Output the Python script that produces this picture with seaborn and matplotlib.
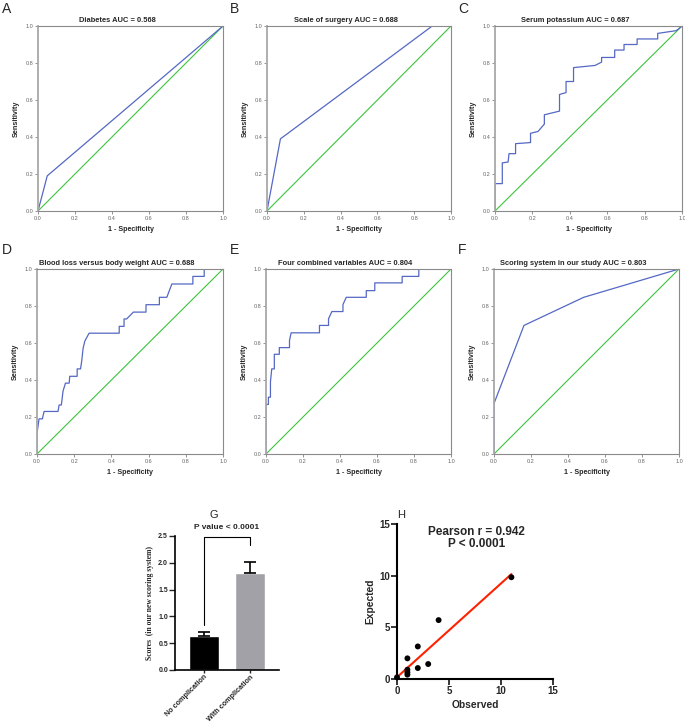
import numpy as np
import pandas as pd
import matplotlib
matplotlib.use("Agg")
import matplotlib.pyplot as plt
import seaborn as sns

# ROC curves: (1 - specificity, sensitivity)
diabetes_fpr = [0.0, 0.05, 1.0]
diabetes_tpr = [0.0, 0.19, 1.0]

surgery_fpr = [0.0, 0.073, 0.898, 1.0]
surgery_tpr = [0.0, 0.39, 1.0, 1.0]

potassium_fpr = [0.0, 0.0, 0.039, 0.039, 0.07, 0.075, 0.11, 0.11, 0.19, 0.19, 0.23,
                 0.264, 0.264, 0.345, 0.345, 0.38, 0.38, 0.42, 0.42, 0.536, 0.57,
                 0.57, 0.64, 0.64, 0.69, 0.69, 0.76, 0.76, 0.87, 0.87, 0.97, 1.0]
potassium_tpr = [0.0, 0.148, 0.148, 0.26, 0.265, 0.31, 0.31, 0.364, 0.37, 0.42, 0.43,
                 0.47, 0.52, 0.54, 0.63, 0.64, 0.70, 0.70, 0.775, 0.787, 0.805,
                 0.83, 0.83, 0.87, 0.87, 0.90, 0.90, 0.93, 0.93, 0.96, 0.975, 1.0]

bloodloss_fpr = [0.0, 0.0, 0.011, 0.029, 0.038, 0.113, 0.119, 0.131, 0.14, 0.153, 0.173,
                 0.176, 0.216, 0.216, 0.234, 0.24, 0.248, 0.257, 0.28, 0.442, 0.442,
                 0.468, 0.468, 0.482, 0.518, 0.586, 0.586, 0.658, 0.658, 0.698, 0.725,
                 0.838, 0.838, 0.899, 0.899, 1.0]
bloodloss_tpr = [0.0, 0.112, 0.19, 0.19, 0.23, 0.23, 0.265, 0.265, 0.34, 0.383, 0.383,
                 0.42, 0.42, 0.46, 0.46, 0.50, 0.572, 0.61, 0.653, 0.653, 0.69,
                 0.69, 0.73, 0.73, 0.767, 0.767, 0.807, 0.807, 0.847, 0.847, 0.919,
                 0.919, 0.96, 0.96, 1.0, 1.0]

combined_fpr = [0.0, 0.0, 0.013, 0.013, 0.024, 0.024, 0.031, 0.045, 0.045, 0.072, 0.072,
                0.127, 0.127, 0.136, 0.289, 0.289, 0.338, 0.338, 0.356, 0.416, 0.416,
                0.434, 0.542, 0.542, 0.588, 0.588, 0.736, 0.736, 0.826, 0.826, 1.0]
combined_tpr = [0.0, 0.268, 0.268, 0.307, 0.307, 0.39, 0.46, 0.46, 0.539, 0.539, 0.575,
                0.575, 0.614, 0.655, 0.655, 0.695, 0.695, 0.731, 0.77, 0.77, 0.808,
                0.847, 0.847, 0.883, 0.883, 0.925, 0.925, 0.96, 0.96, 1.0, 1.0]

scoring_fpr = [0.0, 0.0, 0.162, 0.485, 1.0]
scoring_tpr = [0.0, 0.273, 0.695, 0.847, 1.0]

reference_line = [0.0, 1.0]

roc_titles = ["Diabetes AUC = 0.568", "Scale of surgery AUC = 0.688",
              "Serum potassium AUC = 0.687", "Blood loss versus body weight AUC = 0.688",
              "Four combined variables AUC = 0.804", "Scoring system in our study AUC = 0.803"]

# panel G: scores by group
groups = ["No complication", "With complication"]
score_means = [0.63, 1.81]
score_errors = [0.08, 0.20]
bracket_top = 2.49

# panel H: observed vs expected
observed = [0, 1, 1, 1, 1, 2, 2, 3, 4, 11]
expected = [0.16, 2.0, 0.9, 0.64, 0.42, 3.15, 1.06, 1.45, 5.7, 9.85]

sns.set_style("white")
plt.rcParams['font.family'] = ['Liberation Sans', 'DejaVu Sans']

fig = plt.figure(figsize=(6.85, 7.26), dpi=100)
W, H = 685.0, 726.0


def px_axes(left, top, right, bottom):
    return fig.add_axes([left / W, 1 - bottom / H, (right - left) / W, (bottom - top) / H])


roc_boxes = [(38, 26, 223, 211), (267, 26, 451, 211), (495, 26, 682, 211),
             (37, 269, 223, 454), (266, 269, 451, 454), (494, 269, 679, 454)]
roc_data = [(diabetes_fpr, diabetes_tpr), (surgery_fpr, surgery_tpr),
            (potassium_fpr, potassium_tpr), (bloodloss_fpr, bloodloss_tpr),
            (combined_fpr, combined_tpr), (scoring_fpr, scoring_tpr)]
letters = ["A", "B", "C", "D", "E", "F"]
letter_pos = [(2, 2), (230, 2), (458, 2), (2, 243), (230, 243), (458, 243)]

for box, (fpr, tpr), title, letter, lp in zip(roc_boxes, roc_data, roc_titles, letters, letter_pos):
    ax = px_axes(*box)
    sns.lineplot(x=reference_line, y=reference_line, ax=ax, color="#3cc43c",
                 lw=0.8, sort=False, estimator=None)
    sns.lineplot(x=fpr, y=tpr, ax=ax, color="#5468c4", lw=0.9,
                 sort=False, estimator=None)
    ax.set_xlim(0, 1)
    ax.set_ylim(0, 1)
    ticks = np.arange(0, 1.01, 0.2)
    ax.set_xticks(ticks)
    ax.set_yticks(ticks)
    ax.set_xticklabels([f"{t:.1f}" for t in ticks])
    ax.set_yticklabels([f"{t:.1f}" for t in ticks])
    ax.tick_params(labelsize=4, colors="#666666", length=2, width=0.5, pad=1.5,
                   left=True, bottom=True)
    for s in ax.spines.values():
        s.set_color("#8a8a8a")
        s.set_linewidth(0.8)
    ax.spines["left"].set_color("#a8a8a8")
    ax.spines["left"].set_linewidth(1.3)
    ax.set_title(title, fontsize=5.4, fontweight="bold", pad=3, x=0.43)
    ax.set_xlabel("1 - Specificity", fontsize=5.1, fontweight="bold", labelpad=4)
    ax.set_ylabel("Sensitivity", fontsize=5.2, fontweight="bold", labelpad=4)
    fig.text(lp[0] / W, 1 - lp[1] / H, letter, fontsize=10, va="top", ha="left")

# panel G
axg = px_axes(175, 536, 279, 670)
bar_df = pd.DataFrame({"group": groups, "score": score_means})
sns.barplot(data=bar_df, x="group", y="score", hue="group",
            palette=["#000000", "#a0a0a8"], width=0.65, ax=axg, legend=False)
axg.errorbar([0, 1], score_means, yerr=[[0, 0], score_errors], fmt="none",
             ecolor="black", elinewidth=1.2, capsize=4, capthick=1.2)
left_start = score_means[0] + score_errors[0] + 0.13
right_start = score_means[1] + score_errors[1] + 0.32
axg.plot([0, 0, 1, 1], [left_start, bracket_top, bracket_top, right_start],
         color="black", lw=0.8, clip_on=False)
axg.text(0.5, bracket_top + 0.1, "P value < 0.0001", ha="center", va="bottom",
         fontsize=6, fontweight="bold")
axg.set_xlim(-0.63, 1.63)
axg.set_ylim(0, 2.5)
axg.set_yticks([0, 0.5, 1.0, 1.5, 2.0, 2.5])
axg.set_yticklabels(["0.0", "0.5", "1.0", "1.5", "2.0", "2.5"])
axg.set_xlabel("")
axg.set_ylabel("Scores  (in our new scoring system)", fontsize=5.5,
               fontweight="bold", family=["Liberation Serif"], labelpad=3)
axg.set_xticks([0, 1])
axg.set_xticklabels(groups, rotation=45, ha="right", rotation_mode="anchor",
                    fontsize=5.2, fontweight="bold")
for lab in axg.get_yticklabels():
    lab.set_fontweight("bold")
axg.tick_params(axis="y", labelsize=5, length=4, width=1, left=True, pad=1)
axg.tick_params(axis="x", length=2, width=1, bottom=True, pad=0.5)
sns.despine(ax=axg)
for s in ["left", "bottom"]:
    axg.spines[s].set_linewidth(1.2)
    axg.spines[s].set_color("black")
fig.text(210 / W, 1 - 510 / H, "G", fontsize=8, va="top", ha="left")

# panel H
axh = px_axes(397, 524, 553, 679)
sns.regplot(x=observed, y=expected, scatter=False, ci=None, truncate=True,
            line_kws={"color": "#ff2200", "lw": 1.5}, ax=axh)
sns.scatterplot(x=observed, y=expected, color="black", s=18, edgecolor="none",
                ax=axh, clip_on=False, zorder=3)
axh.set_xlim(0, 15)
axh.set_ylim(0, 15)
axh.set_xticks([0, 5, 10, 15])
axh.set_yticks([0, 5, 10, 15])
axh.tick_params(labelsize=7, length=4, width=1.3, left=True, bottom=True, pad=1)
for lab in axh.get_xticklabels() + axh.get_yticklabels():
    lab.set_fontweight("bold")
sns.despine(ax=axh)
for s in ["left", "bottom"]:
    axh.spines[s].set_linewidth(1.5)
    axh.spines[s].set_color("black")
axh.set_xlabel("Observed", fontsize=7.4, fontweight="bold", labelpad=3)
axh.set_ylabel("Expected", fontsize=7.4, fontweight="bold", labelpad=3)
axh.text(0.51, 0.99, "Pearson r = 0.942\nP < 0.0001", transform=axh.transAxes,
         ha="center", va="top", fontsize=8.5, fontweight="bold", linespacing=1.0)
fig.text(397 / W, 1 - 510 / H, "H", fontsize=8, va="top", ha="left")

fig.savefig("out.png", dpi=100)
